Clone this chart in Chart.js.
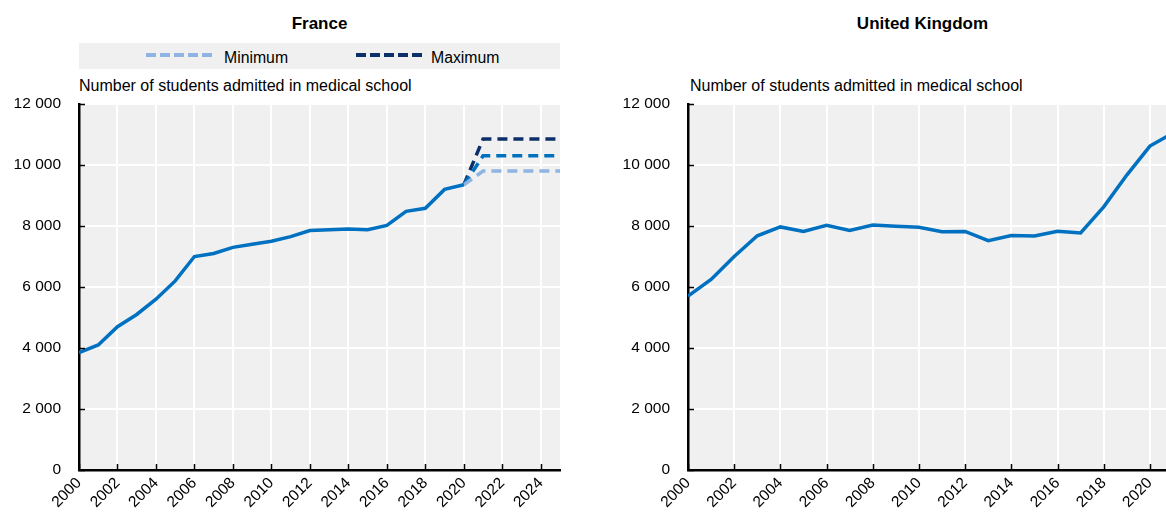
<!DOCTYPE html>
<html>
<head>
<meta charset="utf-8">
<script src="https://cdn.jsdelivr.net/npm/chart.js@4/dist/chart.umd.min.js"></script>
<style>
  html, body { margin: 0; padding: 0; background: #fff; width: 1166px; height: 512px; overflow: hidden; position: relative; }
  body { font-family: "Liberation Sans", Arial, sans-serif; color: #000; }
  .abs { position: absolute; }
  .title { font-weight: bold; font-size: 17px; line-height: 1; text-align: center; top: 15px; }
  .caption { font-size: 16px; line-height: 1; top: 78px; white-space: nowrap; }
  .legend { left: 79px; top: 42.5px; width: 481px; height: 26px; background: #F0F0F0; }
  .legtext { font-size: 15.8px; line-height: 1; top: 7px; white-space: nowrap; }
  canvas { position: absolute; top: 0; }
</style>
</head>
<body>
<div class="abs title" style="left:79px;width:481px;">France</div>
<div class="abs legend">
  <svg class="abs" style="left:66px;top:8px" width="72" height="8"><line x1="1" y1="4" x2="70" y2="4" stroke="#8DB4E2" stroke-width="4" stroke-dasharray="10 4"/></svg>
  <div class="abs legtext" style="left:145px;">Minimum</div>
  <svg class="abs" style="left:276px;top:8px" width="72" height="8"><line x1="1" y1="4" x2="70" y2="4" stroke="#0B3069" stroke-width="4" stroke-dasharray="10 4"/></svg>
  <div class="abs legtext" style="left:352px;">Maximum</div>
</div>
<div class="abs caption" style="left:79px;">Number of students admitted in medical school</div>
<div class="abs title" style="left:688px;width:469px;">United Kingdom</div>
<div class="abs caption" style="left:690px;">Number of students admitted in medical school</div>
<canvas id="fr" width="580" height="512" style="left:0;width:580px;height:512px"></canvas>
<canvas id="uk" width="600" height="512" style="left:609px;width:600px;height:512px"></canvas>
<script>
// ---------- data ----------
const frYears = [2000, 2001, 2002, 2003, 2004, 2005, 2006, 2007, 2008, 2009, 2010,
                 2011, 2012, 2013, 2014, 2015, 2016, 2017, 2018, 2019, 2020];
const frAdmitted = [3850, 4100, 4700, 5100, 5600, 6200, 7000, 7100, 7300, 7400, 7500,
                    7650, 7850, 7880, 7900, 7880, 8020, 8480, 8580, 9200, 9350];
const frProjYears = [2020, 2021, 2022, 2023, 2024, 2025];
const frCentral = [9350, 10300, 10300, 10300, 10300, 10300];
const frMinimum = [9350, 9800, 9800, 9800, 9800, 9800];
const frMaximum = [9350, 10850, 10850, 10850, 10850, 10850];

const ukYears = [2000, 2001, 2002, 2003, 2004, 2005, 2006, 2007, 2008, 2009, 2010,
                 2011, 2012, 2013, 2014, 2015, 2016, 2017, 2018, 2019, 2020, 2021];
const ukAdmitted = [5700, 6250, 7000, 7680, 7970, 7820, 8020, 7850, 8030, 7990, 7960,
                    7810, 7820, 7520, 7690, 7670, 7830, 7770, 8630, 9670, 10620, 11050];

const frXTicks = [2000, 2002, 2004, 2006, 2008, 2010, 2012, 2014, 2016, 2018, 2020, 2022, 2024];
const ukXTicks = [2000, 2002, 2004, 2006, 2008, 2010, 2012, 2014, 2016, 2018, 2020];
const yTickValues = [0, 2000, 4000, 6000, 8000, 10000, 12000];
const yTickLabels = ['0', '2 000', '4 000', '6 000', '8 000', '10 000', '12 000'];

// ---------- styles ----------
const BLUE = '#0070C0', LIGHT = '#8DB4E2', NAVY = '#0B3069';
const FONT = "'Liberation Sans', Arial, sans-serif";

const pts = (xs, ys) => xs.map((x, i) => ({ x: x, y: ys[i] }));

const plotBg = {
  id: 'plotBg',
  beforeDraw(chart) {
    const a = chart.chartArea, c = chart.ctx;
    c.save(); c.fillStyle = '#F0F0F0';
    c.fillRect(a.left, a.top, a.right - a.left, a.bottom - a.top);
    c.restore();
  },
  afterDatasetsDraw(chart) {
    const a = chart.chartArea, c = chart.ctx;
    const xs = chart.scales.x, ys = chart.scales.y;
    c.save(); c.strokeStyle = '#000'; c.lineWidth = 1.5;
    c.beginPath();
    ys.ticks.forEach(t => { const p = Math.round(ys.getPixelForValue(t.value)) + 0.5; c.moveTo(a.left, p); c.lineTo(a.left + 6, p); });
    xs.ticks.forEach(t => { const p = Math.round(xs.getPixelForValue(t.value)) + 0.5; c.moveTo(p, a.bottom); c.lineTo(p, a.bottom - 6); });
    c.stroke();
    c.restore();
  }
};

function makeOptions(xMax, xTicks, rightPad, leftW) {
  return {
    responsive: false,
    animation: false,
    devicePixelRatio: 1,
    layout: { padding: { left: 0, right: rightPad, top: 104, bottom: 0 } },
    plugins: { legend: { display: false }, tooltip: { enabled: false } },
    elements: { point: { radius: 0 }, line: { tension: 0 } },
    scales: {
      x: {
        type: 'linear', min: 2000, max: xMax,
        afterFit(s) { s.height = 42; },
        afterBuildTicks(s) { s.ticks = xTicks.map(v => ({ value: v })); },
        grid: { color: '#FFFFFF', lineWidth: 2, drawTicks: false },
        border: { display: true, color: '#000', width: 2.5 },
        ticks: {
          autoSkip: false, minRotation: 45, maxRotation: 45,
          padding: 4, color: '#000', font: { family: FONT, size: 15.5 },
          callback: v => String(v)
        }
      },
      y: {
        min: 0, max: 12000,
        afterFit(s) { s.width = leftW; },
        afterBuildTicks(s) { s.ticks = yTickValues.map(v => ({ value: v })); },
        grid: { color: '#FFFFFF', lineWidth: 2, drawTicks: false },
        border: { display: true, color: '#000', width: 2.5 },
        ticks: {
          padding: 18, color: '#000', font: { family: FONT, size: 15.5 },
          callback: v => yTickLabels[yTickValues.indexOf(v)]
        }
      }
    }
  };
}

new Chart(document.getElementById('fr'), {
  type: 'line',
  data: {
    datasets: [
      { label: 'France', data: pts(frYears, frAdmitted), borderColor: BLUE, borderWidth: 3.5, fill: false },
      { label: 'Minimum', data: pts(frProjYears, frMinimum), borderColor: LIGHT, borderWidth: 3.5, borderDash: [10, 6], fill: false },
      { label: 'Central', data: pts(frProjYears, frCentral), borderColor: BLUE, borderWidth: 3.5, borderDash: [10, 6], fill: false },
      { label: 'Maximum', data: pts(frProjYears, frMaximum), borderColor: NAVY, borderWidth: 3.5, borderDash: [10, 6], fill: false }
    ]
  },
  options: makeOptions(2025, frXTicks, 20, 79),
  plugins: [plotBg]
});

new Chart(document.getElementById('uk'), {
  type: 'line',
  data: {
    datasets: [
      { label: 'United Kingdom', data: pts(ukYears, ukAdmitted), borderColor: BLUE, borderWidth: 3.5, fill: false }
    ]
  },
  options: makeOptions(2021, ukXTicks, 36, 79),
  plugins: [plotBg]
});
</script>
</body>
</html>
